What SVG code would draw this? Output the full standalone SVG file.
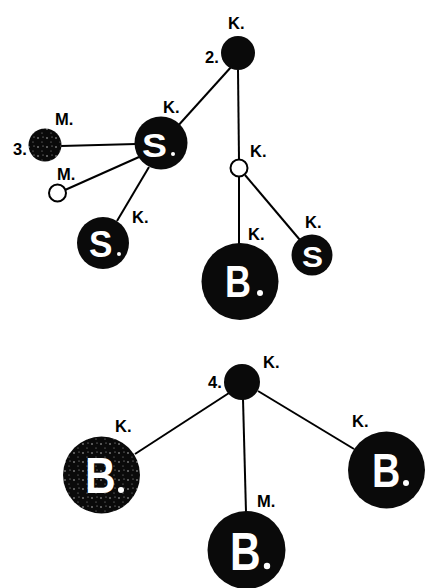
<svg xmlns="http://www.w3.org/2000/svg" width="436" height="588" viewBox="0 0 436 588">
<defs>
<pattern id="speck" width="9" height="9" patternUnits="userSpaceOnUse">
<rect width="9" height="9" fill="#0a0a0a"/>
<circle cx="2" cy="3" r="0.8" fill="#bbb"/>
<circle cx="6" cy="7" r="0.6" fill="#999"/>
<circle cx="7" cy="2" r="0.5" fill="#ccc"/>
</pattern>
<style>
.edge{stroke:#000;stroke-width:2;fill:none}
.blk{fill:#0a0a0a}
.sp{fill:url(#speck)}
.wht{fill:#fff;stroke:#000;stroke-width:2}
.lbl{font-family:"Liberation Sans",Arial,sans-serif;font-weight:bold;font-size:16.5px;fill:#000}
.in{font-family:"Liberation Sans",Arial,sans-serif;font-weight:bold;fill:#fff}
</style>
</defs>
<rect width="436" height="588" fill="#fff"/>
<g id="connectors">
<line class="edge" x1="232" y1="66" x2="176" y2="128"/>
<line class="edge" x1="238" y1="70" x2="239" y2="160"/>
<line class="edge" x1="239" y1="177" x2="239" y2="244"/>
<line class="edge" x1="245" y1="175" x2="300" y2="240"/>
<line class="edge" x1="61" y1="146" x2="136" y2="144"/>
<line class="edge" x1="65" y1="190" x2="139" y2="157"/>
<line class="edge" x1="149" y1="167" x2="117" y2="221"/>
<line class="edge" x1="229" y1="393" x2="135" y2="454"/>
<line class="edge" x1="243" y1="399" x2="246" y2="512"/>
<line class="edge" x1="258" y1="391" x2="354" y2="449"/>
</g>
<g id="n2"><circle class="blk" cx="238" cy="53" r="17"/><text class="lbl" x="228" y="28.5">K.</text><text class="lbl" x="205" y="63">2.</text></g>
<g id="nS1"><circle class="blk" cx="161" cy="143" r="26.5"/><g transform="translate(142,157) scale(1.1,1)"><text class="in" font-size="34">S</text></g><circle cx="173" cy="154" r="2" fill="#fff"/><text class="lbl" x="163" y="113">K.</text></g>
<g id="n3"><circle class="sp" cx="45" cy="145" r="16.5"/><text class="lbl" x="55" y="125">M.</text><text class="lbl" x="13" y="155">3.</text></g>
<g id="nM"><circle class="wht" cx="57.5" cy="193" r="8.5"/><text class="lbl" x="57" y="180">M.</text></g>
<g id="nS2"><circle class="blk" cx="103" cy="243" r="26"/><g transform="translate(89,257) scale(0.95,1)"><text class="in" font-size="37">S</text></g><circle cx="119" cy="254" r="2" fill="#fff"/><text class="lbl" x="132" y="223">K.</text></g>
<g id="nK"><circle class="wht" cx="239" cy="168" r="8.5"/><text class="lbl" x="250" y="157">K.</text></g>
<g id="nB1"><circle class="blk" cx="240" cy="281.5" r="38.5"/><g transform="translate(225,297) scale(0.8,1)"><text class="in" font-size="45">B</text></g><circle cx="260" cy="293" r="3" fill="#fff"/><text class="lbl" x="248" y="240">K.</text></g>
<g id="nS3"><circle class="blk" cx="312" cy="255" r="20.5"/><g transform="translate(302,267) scale(1.05,1)"><text class="in" font-size="30">S</text></g><text class="lbl" x="305" y="228">K.</text></g>
<g id="n4"><circle class="blk" cx="242" cy="382" r="18"/><text class="lbl" x="263" y="368">K.</text><text class="lbl" x="208" y="388">4.</text></g>
<g id="nB2"><circle class="sp" cx="101.5" cy="475" r="38.5"/><g transform="translate(85,493) scale(0.85,1)"><text class="in" font-size="50">B</text></g><circle cx="121" cy="490" r="3" fill="#fff"/><text class="lbl" x="115" y="432">K.</text></g>
<g id="nB3"><circle class="blk" cx="246.5" cy="550" r="39"/><g transform="translate(230,570) scale(0.8,1)"><text class="in" font-size="53">B</text></g><circle cx="267" cy="566" r="3.2" fill="#fff"/><text class="lbl" x="257" y="507">M.</text></g>
<g id="nB4"><circle class="blk" cx="386.5" cy="470" r="38.5"/><g transform="translate(372,487) scale(0.8,1)"><text class="in" font-size="49">B</text></g><circle cx="406" cy="483" r="3" fill="#fff"/><text class="lbl" x="352" y="427">K.</text></g>
</svg>
